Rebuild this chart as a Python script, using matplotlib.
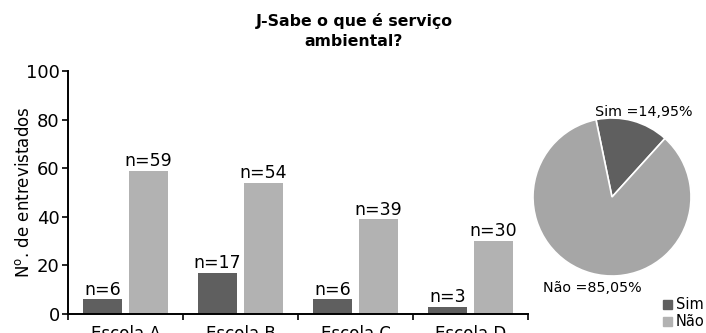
import matplotlib
matplotlib.use("Agg")
import matplotlib.pyplot as plt
import numpy as np
from matplotlib.patches import Patch

plt.rcParams['font.family'] = ['DejaVu Sans']
plt.rcParams['mathtext.default'] = 'regular'

escolas = ["Escola A", "Escola B", "Escola C", "Escola D"]
sim = [6, 17, 6, 3]
nao = [59, 54, 39, 30]

cor_sim = "#5f5f5f"
cor_nao = "#b2b2b2"
cor_nao_pie = "#a6a6a6"

W, H = 706, 333
fig = plt.figure(figsize=(W / 100, H / 100), dpi=100)

# bar chart
ax = fig.add_axes([68 / W, 1 - 314 / H, 460 / W, 243 / H])
x = np.arange(len(escolas))
w = 0.34
b1 = ax.bar(x - 0.2, sim, w, color=cor_sim)
b2 = ax.bar(x + 0.2, nao, w, color=cor_nao)
for bars, vals in [(b1, sim), (b2, nao)]:
    for r, v in zip(bars, vals):
        ax.annotate(f"n={v}", (r.get_x() + r.get_width() / 2, v),
                    xytext=(0, 0.5), textcoords="offset points",
                    ha="center", va="bottom", fontsize=12.5)

ax.set_xlim(-0.5, 3.5)
ax.set_ylim(0, 100)
ax.set_yticks([0, 20, 40, 60, 80, 100])
ax.set_xticks(np.arange(-0.5, 4, 1))
ax.set_xticklabels([])
ax.set_xticks(x, minor=True)
ax.set_xticklabels(escolas, minor=True, fontsize=12)
ax.tick_params(axis="x", which="minor", length=0, pad=8)
ax.tick_params(axis="x", which="major", length=4, width=1.2)
ax.tick_params(axis="y", length=4, width=1.2, labelsize=13, pad=2)
for s in ["top", "right"]:
    ax.spines[s].set_visible(False)
for s in ["left", "bottom"]:
    ax.spines[s].set_linewidth(1.4)
ax.set_ylabel("N$^{o}$. de entrevistados", fontsize=12)
ax.yaxis.set_label_coords(-0.077, 0.5)

fig.text(354 / W, 1 - 13 / H, "J-Sabe o que é serviço\nambiental?",
         ha="center", va="top", fontsize=11.3, fontweight="bold",
         linespacing=1.4)

# pie chart
tot_sim = sum(sim)
tot_nao = sum(nao)
pct_sim = 100 * tot_sim / (tot_sim + tot_nao)
pct_nao = 100 - pct_sim

cx, cy, r = 612, 197, 79
ax2 = fig.add_axes([(cx - r) / W, 1 - (cy + r) / H, 2 * r / W, 2 * r / H])
ax2.pie([tot_sim, tot_nao], colors=[cor_sim, cor_nao_pie], startangle=101.7,
        counterclock=False, wedgeprops=dict(edgecolor="white", linewidth=1.2))
ax2.set_xlim(-1, 1)
ax2.set_ylim(-1, 1)
ax2.set_aspect("equal")

fig.text(644 / W, 1 - 112 / H, f"Sim ={pct_sim:.2f}%".replace(".", ","),
         ha="center", va="center", fontsize=10.3)
fig.text(592 / W, 1 - 288 / H, f"Não ={pct_nao:.2f}%".replace(".", ","),
         ha="center", va="center", fontsize=10.3)

handles = [Patch(color=cor_sim, label="Sim"), Patch(color=cor_nao, label="Não")]
fig.legend(handles=handles, loc="upper left", bbox_to_anchor=(656 / W, 1 - 290 / H),
           frameon=False, fontsize=10.5, handlelength=0.6, handleheight=0.6,
           handletextpad=0.25, labelspacing=0.15, borderpad=0)

fig.savefig("out.png", dpi=100)
